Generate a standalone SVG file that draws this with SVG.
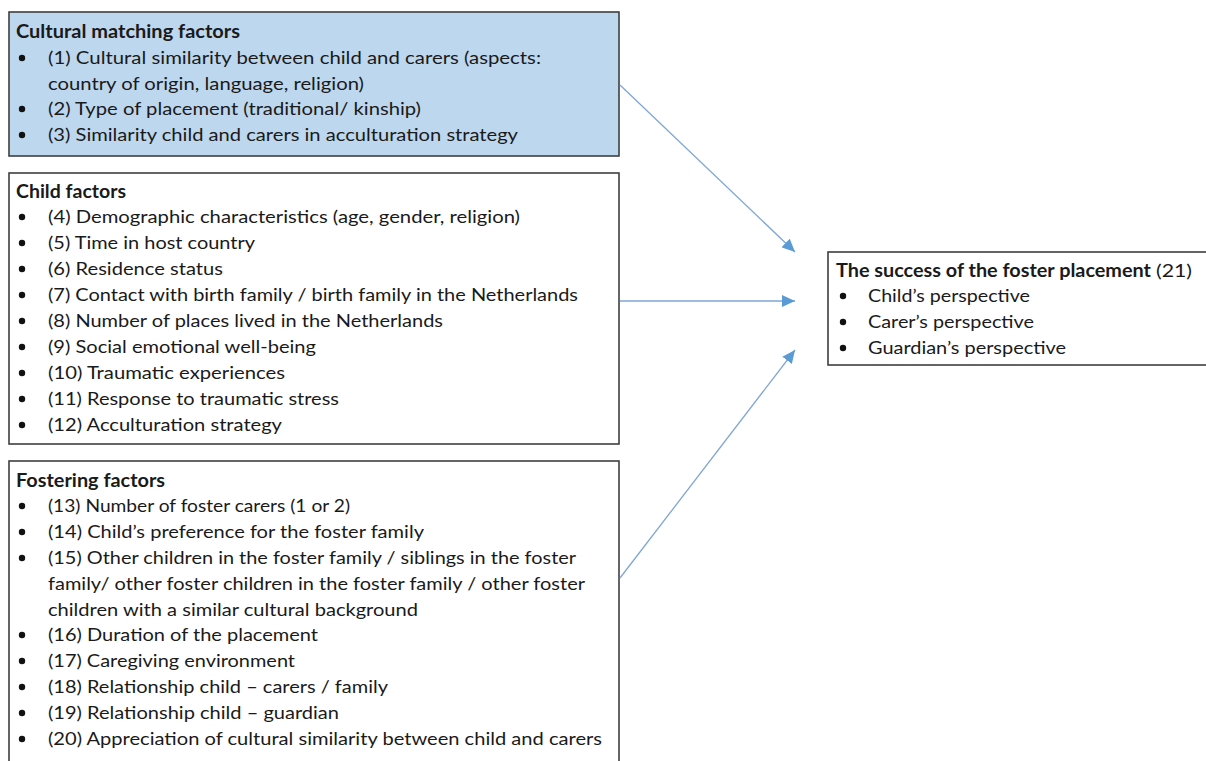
<svg xmlns="http://www.w3.org/2000/svg" width="1206" height="761" viewBox="0 0 1206 761">
<style>
.box{fill:#ffffff;stroke:#3f3f3f;stroke-width:1.6}
.blue{fill:#bdd7ee}
.t{font-family:Lato,"Liberation Sans",sans-serif;font-size:18px;fill:#1a1a1a}
.b{font-weight:bold}
.con{stroke:#7ea6d6;stroke-width:1.3;fill:none}
.dot{fill:#111}
</style>
<defs>
<marker id="ah" markerUnits="userSpaceOnUse" markerWidth="14" markerHeight="12" refX="13" refY="6" orient="auto">
<path d="M0,0 L13,6 L0,12 Z" fill="#5b9bd5"/>
</marker>
</defs>
<rect width="1206" height="761" fill="#ffffff"/>

<g id="cultural-matching">
<rect class="box blue" x="9" y="12" width="610" height="144"/>
<text class="t b" x="16" y="38" textLength="224" lengthAdjust="spacingAndGlyphs">Cultural matching factors</text>
<circle class="dot" cx="22" cy="58" r="3.2"/>
<text class="t" x="48" y="64" textLength="493" lengthAdjust="spacingAndGlyphs">(1) Cultural similarity between child and carers  (aspects:</text>
<text class="t" x="48" y="90" textLength="316" lengthAdjust="spacingAndGlyphs">country of origin, language, religion)</text>
<circle class="dot" cx="22" cy="109" r="3.2"/>
<text class="t" x="48" y="115" textLength="373" lengthAdjust="spacingAndGlyphs">(2) Type of placement (traditional/ kinship)</text>
<circle class="dot" cx="22" cy="135" r="3.2"/>
<text class="t" x="48" y="141" textLength="470" lengthAdjust="spacingAndGlyphs">(3) Similarity child and carers in acculturation strategy</text>
</g>

<g id="child-factors">
<rect class="box" x="9" y="173" width="610" height="271"/>
<text class="t b" x="16" y="198" textLength="110" lengthAdjust="spacingAndGlyphs">Child factors</text>
<circle class="dot" cx="22" cy="217" r="3.2"/>
<text class="t" x="48" y="223" textLength="472" lengthAdjust="spacingAndGlyphs">(4) Demographic characteristics (age, gender, religion)</text>
<circle class="dot" cx="22" cy="243" r="3.2"/>
<text class="t" x="48" y="249" textLength="207" lengthAdjust="spacingAndGlyphs">(5) Time in host country</text>
<circle class="dot" cx="22" cy="269" r="3.2"/>
<text class="t" x="48" y="275" textLength="175" lengthAdjust="spacingAndGlyphs">(6) Residence status</text>
<circle class="dot" cx="22" cy="295" r="3.2"/>
<text class="t" x="48" y="301" textLength="530" lengthAdjust="spacingAndGlyphs">(7) Contact with birth family / birth family in the Netherlands</text>
<circle class="dot" cx="22" cy="321" r="3.2"/>
<text class="t" x="48" y="327" textLength="395" lengthAdjust="spacingAndGlyphs">(8) Number of places lived in the Netherlands</text>
<circle class="dot" cx="22" cy="347" r="3.2"/>
<text class="t" x="48" y="353" textLength="268" lengthAdjust="spacingAndGlyphs">(9) Social emotional well-being</text>
<circle class="dot" cx="22" cy="373" r="3.2"/>
<text class="t" x="48" y="379" textLength="237" lengthAdjust="spacingAndGlyphs">(10) Traumatic experiences</text>
<circle class="dot" cx="22" cy="399" r="3.2"/>
<text class="t" x="48" y="405" textLength="291" lengthAdjust="spacingAndGlyphs">(11) Response to traumatic stress</text>
<circle class="dot" cx="22" cy="425" r="3.2"/>
<text class="t" x="48" y="431" textLength="234" lengthAdjust="spacingAndGlyphs">(12) Acculturation strategy</text>
</g>

<g id="fostering-factors">
<rect class="box" x="9" y="461" width="610" height="320"/>
<text class="t b" x="16" y="487" textLength="149" lengthAdjust="spacingAndGlyphs">Fostering factors</text>
<circle class="dot" cx="22" cy="506" r="3.2"/>
<text class="t" x="48" y="512" textLength="302" lengthAdjust="spacingAndGlyphs">(13) Number of foster carers (1 or 2)</text>
<circle class="dot" cx="22" cy="532" r="3.2"/>
<text class="t" x="48" y="538" textLength="376" lengthAdjust="spacingAndGlyphs">(14) Child’s preference for the foster family</text>
<circle class="dot" cx="22" cy="558" r="3.2"/>
<text class="t" x="48" y="564" textLength="528" lengthAdjust="spacingAndGlyphs">(15) Other children in the foster family / siblings in the foster</text>
<text class="t" x="48" y="590" textLength="537" lengthAdjust="spacingAndGlyphs">family/ other foster children in the foster family / other foster</text>
<text class="t" x="48" y="616" textLength="370" lengthAdjust="spacingAndGlyphs">children with a similar cultural background</text>
<circle class="dot" cx="22" cy="635" r="3.2"/>
<text class="t" x="48" y="641" textLength="270" lengthAdjust="spacingAndGlyphs">(16) Duration of the placement</text>
<circle class="dot" cx="22" cy="661" r="3.2"/>
<text class="t" x="48" y="667" textLength="247" lengthAdjust="spacingAndGlyphs">(17) Caregiving environment</text>
<circle class="dot" cx="22" cy="687" r="3.2"/>
<text class="t" x="48" y="693" textLength="340" lengthAdjust="spacingAndGlyphs">(18) Relationship child – carers / family</text>
<circle class="dot" cx="22" cy="713" r="3.2"/>
<text class="t" x="48" y="719" textLength="291" lengthAdjust="spacingAndGlyphs">(19) Relationship child – guardian</text>
<circle class="dot" cx="22" cy="739" r="3.2"/>
<text class="t" x="48" y="745" textLength="554" lengthAdjust="spacingAndGlyphs">(20) Appreciation of cultural similarity between child and carers</text>
</g>

<g id="success">
<rect class="box" x="828" y="252" width="400" height="113"/>
<text class="t b" x="836" y="277" textLength="315" lengthAdjust="spacingAndGlyphs">The success of the foster placement</text>
<text class="t" x="1156" y="277" textLength="36" lengthAdjust="spacingAndGlyphs">(21)</text>
<circle class="dot" cx="843" cy="296" r="3.2"/>
<text class="t" x="868" y="302" textLength="162" lengthAdjust="spacingAndGlyphs">Child’s perspective</text>
<circle class="dot" cx="843" cy="322" r="3.2"/>
<text class="t" x="868" y="328" textLength="166" lengthAdjust="spacingAndGlyphs">Carer’s perspective</text>
<circle class="dot" cx="843" cy="348" r="3.2"/>
<text class="t" x="868" y="354" textLength="198" lengthAdjust="spacingAndGlyphs">Guardian’s perspective</text>
</g>

<g id="connectors">
<line class="con" x1="620" y1="85" x2="795" y2="252" marker-end="url(#ah)"/>
<line class="con" x1="620" y1="301" x2="795" y2="301" marker-end="url(#ah)"/>
<line class="con" x1="620" y1="578" x2="795" y2="350" marker-end="url(#ah)"/>
</g>
</svg>
